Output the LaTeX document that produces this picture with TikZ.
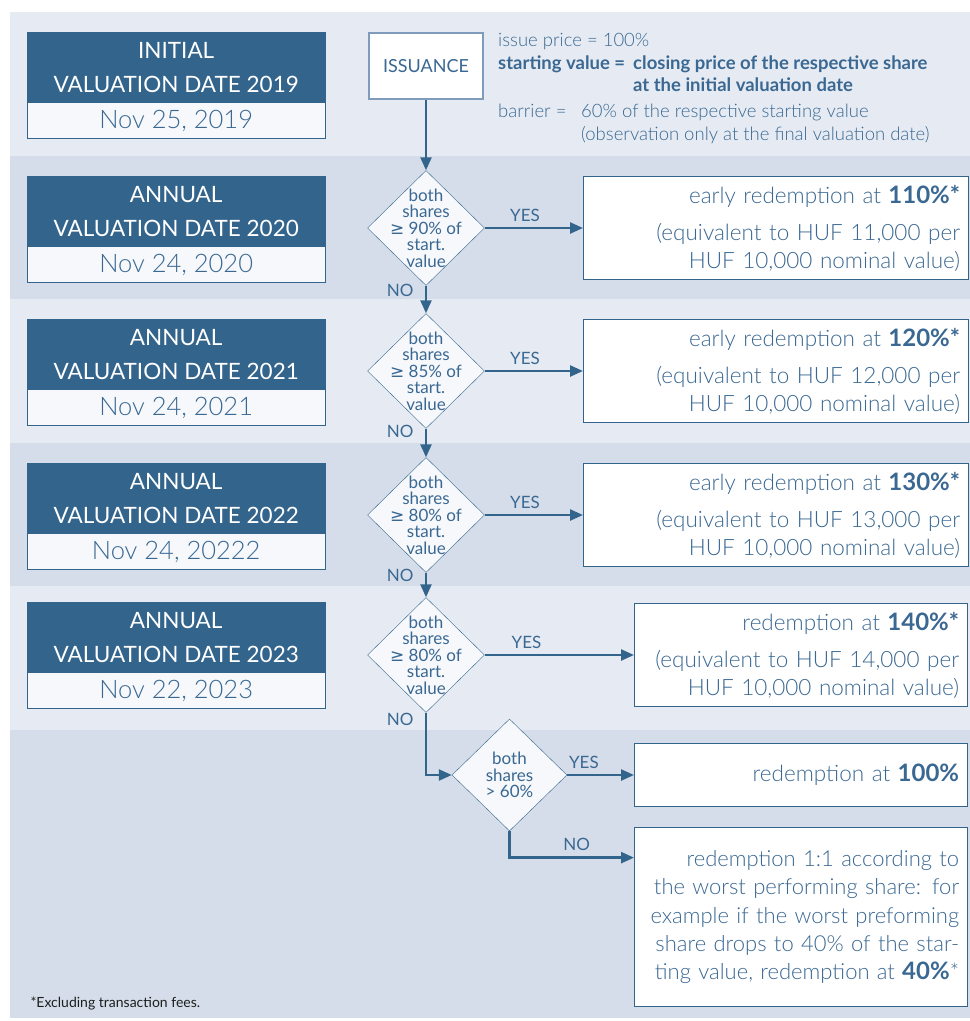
\documentclass[tikz,border=0pt]{standalone}
\usepackage{fontspec}
\setmainfont{Lato}[UprightFont={* Light}, BoldFont={* Bold}]
\newfontfamily\regfont{Lato}
\newfontfamily\symfont{DejaVu Sans}
\usetikzlibrary{shapes,arrows.meta,calc,positioning}
\definecolor{dblue}{RGB}{51,100,140}
\definecolor{tblue}{RGB}{58,104,146}
\definecolor{bandA}{RGB}{230,235,243}
\definecolor{bandB}{RGB}{212,221,233}
\definecolor{pale}{RGB}{246,248,251}
\definecolor{issueline}{RGB}{128,156,189}
\definecolor{notegray}{RGB}{30,30,30}
\newcommand{\geqsym}{{\symfont ≥}}
\tikzset{
  node distance=0pt,
  datehead/.style={fill=dblue, draw=dblue, text=white, minimum width=298pt,
    minimum height=70pt, align=center, anchor=north west,
    font=\regfont\fontsize{22.5}{34}\selectfont},
  dateval/.style={fill=pale, draw=dblue, text=tblue, minimum width=298pt,
    minimum height=36pt, font=\fontsize{25.5}{28}\selectfont},
  check/.style={diamond, draw=dblue, fill=pale, minimum width=117pt,
    minimum height=115pt, inner sep=0pt},
  checktext/.style={align=center, text=tblue, inner sep=0pt,
    font=\regfont\fontsize{17}{16.5}\selectfont},
  payout/.style={rectangle, draw=dblue, fill=white, line width=1.2pt,
    align=right, text=tblue, inner xsep=8pt, anchor=west,
    font=\fontsize{22.5}{28}\selectfont},
  info/.style={text=tblue, inner sep=0pt, font=\fontsize{18.5}{22.5}\selectfont},
  yesno/.style={text=tblue, font=\regfont\fontsize{17}{17}\selectfont}
}

\begin{document}
\begin{tikzpicture}[x=1pt,y=-1pt]
          \useasboundingbox (0,0) rectangle (970,1021);
          % bands
          \fill[bandA] (10,12)  rectangle (970,156);
          \fill[bandB] (10,156) rectangle (970,299);
          \fill[bandA] (10,299) rectangle (970,443);
          \fill[bandB] (10,443) rectangle (970,586);
          \fill[bandA] (10,586) rectangle (970,730);
          \fill[bandB] (10,730) rectangle (970,1018);

          \begin{scope}
              \node[datehead] (h1) at (27,32)  {INITIAL\\VALUATION DATE 2019};
              \node[dateval] (v1) [below=of h1] {Nov 25, 2019};
              \node[datehead] (h2) at (27,176) {ANNUAL\\VALUATION DATE 2020};
              \node[dateval] (v2) [below=of h2] {Nov 24, 2020};
              \node[datehead] (h3) at (27,319) {ANNUAL\\VALUATION DATE 2021};
              \node[dateval] (v3) [below=of h3] {Nov 24, 2021};
              \node[datehead] (h4) at (27,463) {ANNUAL\\VALUATION DATE 2022};
              \node[dateval] (v4) [below=of h4] {Nov 24, 20222};
              \node[datehead] (h5) at (27,602) {ANNUAL\\VALUATION DATE 2023};
              \node[dateval] (v5) [below=of h5] {Nov 22, 2023};

              \node[draw=issueline, line width=2.5pt, fill=white, text=tblue,
                    minimum width=114pt, minimum height=66pt,
                    font=\regfont\fontsize{18}{18}\selectfont] (iss) at (426,66) {ISSUANCE};

              \node[info, anchor=west] (issue) at (498,42) {issue price = 100\%};
              \node[info, anchor=west] (startval) at (498,76)
                {\begin{tabular}{@{}p{135pt}@{}l@{}}
                 \textbf{starting value =} & \textbf{closing price of the respective share}\\
                 & \textbf{at the initial valuation date}
                 \end{tabular}};
              \node[info, anchor=west] (barrier) at (498,124.5)
                {\begin{tabular}{@{}p{83pt}@{}l@{}}
                 barrier = & 60\% of the respective starting value\\
                 & (observation only at the final valuation date)
                 \end{tabular}};

              \node[check, label={[checktext]center:both\\shares\\\geqsym\ 90\% of\\start.\\value}] (d1) at (426,228) {};
              \node[check, label={[checktext]center:both\\shares\\\geqsym\ 85\% of\\start.\\value}] (d2) at (426,371) {};
              \node[check, label={[checktext]center:both\\shares\\\geqsym\ 80\% of\\start.\\value}] (d3) at (426,515) {};
              \node[check, label={[checktext]center:both\\shares\\\geqsym\ 80\% of\\start.\\value}] (d4) at (426,655) {};
              \node[check, minimum width=115pt, minimum height=112pt,
                    label={[checktext]center:both\\shares\\> 60\%}] (fin) at (509.5,775) {};

              \node[payout, text width=368.5pt, minimum height=103pt] (p1) at (583,228)
                {early redemption at {\fontsize{24}{28}\selectfont\textbf{110\%*}}\\[9pt]
                 (equivalent to HUF 11,000 per\\HUF 10,000 nominal value)};
              \node[payout, text width=368.5pt, minimum height=103pt] (p2) at (583,371)
                {early redemption at {\fontsize{24}{28}\selectfont\textbf{120\%*}}\\[9pt]
                 (equivalent to HUF 12,000 per\\HUF 10,000 nominal value)};
              \node[payout, text width=368.5pt, minimum height=103pt] (p3) at (583,515)
                {early redemption at {\fontsize{24}{28}\selectfont\textbf{130\%*}}\\[9pt]
                 (equivalent to HUF 13,000 per\\HUF 10,000 nominal value)};
              \node[payout, text width=316.5pt, minimum height=103pt] (p4) at (634,655)
                {redemption at {\fontsize{24}{28}\selectfont\textbf{140\%*}}\\[9pt]
                 (equivalent to HUF 14,000 per\\HUF 10,000 nominal value)};
              \node[payout, text width=316.5pt, minimum height=63pt] (p5) at (634,775)
                {redemption at {\fontsize{24}{28}\selectfont\textbf{100\%}}};
              \node[payout, text width=316.5pt, minimum height=179pt, anchor=north west,
                    font=\fontsize{22}{28.3}\selectfont] (p6) at (634,827)
                {redemption 1:1 according to\\the worst performing share: for\\
                 example if the worst preforming\\share drops to 40\% of the star-\\
                 ting value, redemption at {\fontsize{24}{28}\selectfont\textbf{40\%}}*};
              \coordinate (noend) at ($(p6.north west)!0.17!(p6.south west)$);

              \node[anchor=west, text=notegray, font=\regfont\fontsize{14}{16}\selectfont] (note) at (27,1003)
                {*Excluding transaction fees.};
          \end{scope}

          \begin{scope}[>={Triangle[length=13pt,width=11pt]},
                        every edge/.style={draw=dblue,line width=2.4pt}]
              \path [->] (iss) edge (d1);
              \path [->] (d1) edge node[yesno, left=8pt, pos=0.16] (no1) {NO} (d2);
              \path [->] (d2) edge node[yesno, left=8pt, pos=0.09] (no2) {NO} (d3);
              \path [->] (d3) edge node[yesno, left=8pt, pos=0.1] (no3) {NO} (d4);
              \path [->] (d4) edge[to path={|- (\tikztotarget) \tikztonodes}]
                   node[yesno, left=8pt, pos=0.05] (no4) {NO} (fin);

              \path [->] (d1) edge node[yesno, above=2pt, pos=0.41] (yes1) {YES} (p1);
              \path [->] (d2) edge node[yesno, above=2pt, pos=0.41] (yes2) {YES} (p2);
              \path [->] (d3) edge node[yesno, above=2pt, pos=0.41] (yes3) {YES} (p3);
              \path [->] (d4) edge node[yesno, above=2pt, pos=0.28] (yes4) {YES} (p4);
              \path [->] (fin) edge node[yesno, above=2pt, pos=0.25] (yes5) {YES} (p5);
              \path [->] (fin) edge[to path={|- (\tikztotarget) \tikztonodes}]
                   node[yesno, above=2pt, pos=0.77] (no5) {NO} (noend);
          \end{scope}
\end{tikzpicture}
\end{document}
